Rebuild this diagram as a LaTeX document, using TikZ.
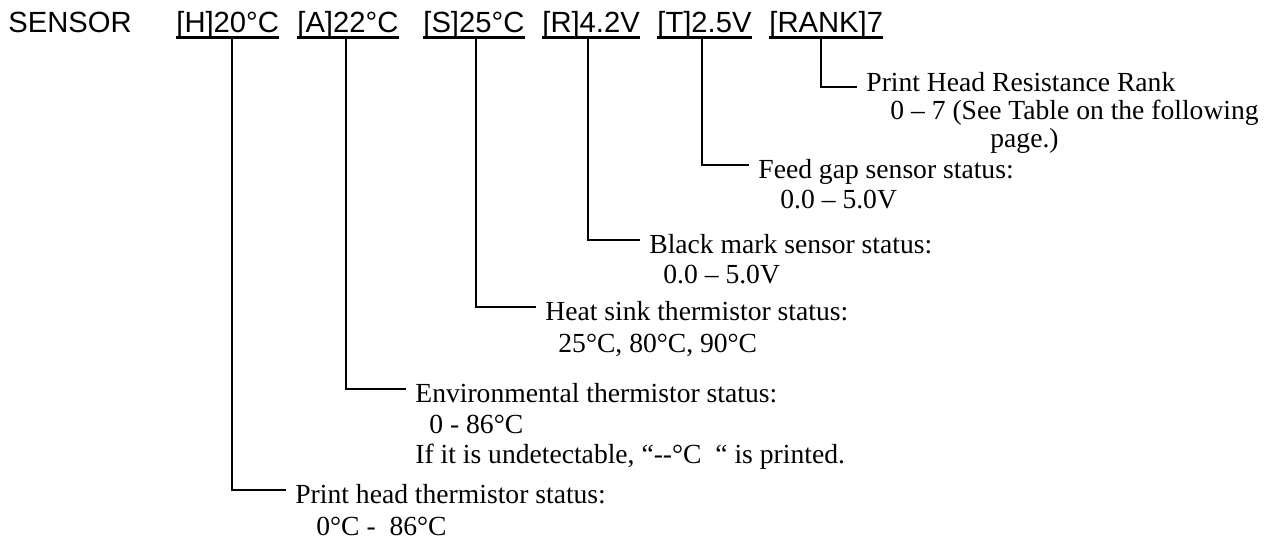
\documentclass[tikz,border=0pt]{standalone}
\usepackage{fontspec}
\usetikzlibrary{positioning}
\newfontfamily\hdrfam{Liberation Sans}
\newfontfamily\txtfam{Liberation Serif}
\newcommand\hdrfont{\hdrfam\fontsize{14.6}{17}\selectfont}
\newcommand\txtfont{\txtfam\fontsize{13.8}{16}\selectfont}

\begin{document}
\begin{tikzpicture}[x=0.5pt, y=-0.5pt, hdr/.style={font=\hdrfont, anchor=base west, inner xsep=0pt, inner ysep=2.5pt, text depth=0pt}, ttl/.style={font=\txtfont, anchor=base west, inner xsep=4.5pt, inner ysep=0pt, text height=13pt, text depth=0pt}, val/.style={font=\txtfont, anchor=base west, inner sep=0pt}, uline/.style={line width=1.3pt}, lead/.style={line width=0.9pt}]
\useasboundingbox (0,0) rectangle (1265,538);
\node[hdr] (sensor) at (8,32) {SENSOR};
\node[hdr] (h) at (176,32) {[H]20°C};
\node[hdr] (a) at (297,32) {[A]22°C};
\node[hdr] (s) at (423,32) {[S]25°C};
\node[hdr] (r) at (542,32) {[R]4.2V};
\node[hdr] (t) at (657,32) {[T]2.5V};
\node[hdr] (rank) at (769,32) {[RANK]7};
\foreach \n in {h,a,s,r,t,rank}
  \draw[uline] (\n.south west) -- (\n.south east);
\node[ttl, text height=4pt] (rankT) at (857,91) {Print Head Resistance Rank};
\node[val] (rankV) at (890,119) {0 – 7 (See Table on the following};
\node[val] (rankP) at (990,147) {page.)};
\node[ttl] (tT) at (749,178) {Feed gap sensor status:};
\node[val] (tV) at (780,208) {0.0 – 5.0V};
\node[ttl] (rT) at (640,253) {Black mark sensor status:};
\node[val] (rV) at (663,283) {0.0 – 5.0V};
\node[ttl] (sT) at (536,320) {Heat sink thermistor status:};
\node[val] (sV) at (558,352) {25°C, 80°C, 90°C};
\node[ttl] (aT) at (406,402) {Environmental thermistor status:};
\node[val] (aV) at (429,433) {0 - 86°C};
\node[val] (aN) at (415,463) {If it is undetectable, “\mbox{-}\mbox{-}°C \ “ is printed.};
\node[ttl] (hT) at (286,503) {Print head thermistor status:};
\node[val] (hV) at (316,535) {0°C -\ \ 86°C};
\draw[lead] (rank.south -| 821,0) |- (rankT.west);
\draw[lead] (t.south -| 702,0) |- (tT.west);
\draw[lead] (r.south -| 588,0) |- (rT.west);
\draw[lead] (s.south -| 476,0) |- (sT.west);
\draw[lead] (a.south -| 346,0) |- (aT.west);
\draw[lead] (h.south -| 232,0) |- (hT.west);
\end{tikzpicture}
\end{document}
